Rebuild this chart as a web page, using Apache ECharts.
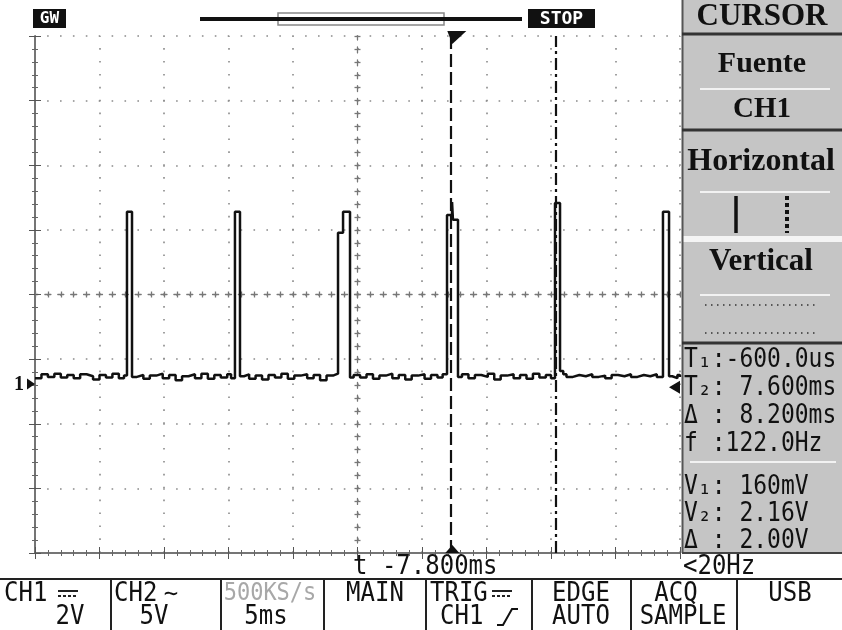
<!DOCTYPE html>
<html>
<head>
<meta charset="utf-8">
<title>CH1 cursor</title>
<script src="https://cdn.jsdelivr.net/npm/echarts@6/dist/echarts.min.js"></script>
<style>
  html, body { margin: 0; padding: 0; background: #fff; }
  #scope { width: 842px; height: 630px; }
</style>
</head>
<body>
<div id="scope"></div>
<script>
// CH1 trace: [time ms (trigger = 0), volts]
var ch1Trace = [
    [-32.8, 0.18], [-32.3, 0.30], [-31.8, 0.22], [-31.3, 0.32], [-30.8, 0.20], [-30.3, 0.28],
    [-29.8, 0.18], [-29.3, 0.30], [-28.8, 0.24], [-28.3, 0.14], [-27.8, 0.28], [-27.3, 0.20],
    [-26.8, 0.32], [-26.3, 0.18], [-25.9, 0.26],
    [-25.67, 5.33], [-25.28, 0.22],
    [-24.9, 0.28], [-24.4, 0.16], [-23.9, 0.26], [-23.4, 0.32], [-22.9, 0.18], [-22.4, 0.28],
    [-21.9, 0.12], [-21.4, 0.24], [-20.9, 0.30], [-20.4, 0.18], [-19.9, 0.32], [-19.4, 0.16],
    [-18.9, 0.28], [-18.4, 0.20], [-17.9, 0.30], [-17.6, 0.18],
    [-17.30, 5.33], [-16.91, 0.24],
    [-16.6, 0.30], [-16.2, 0.16], [-15.7, 0.26], [-15.2, 0.14], [-14.7, 0.28], [-14.2, 0.20],
    [-13.7, 0.32], [-13.2, 0.16], [-12.7, 0.26], [-12.2, 0.30], [-11.7, 0.18], [-11.2, 0.28],
    [-10.7, 0.12], [-10.2, 0.26], [-9.7, 0.32],
    [-9.31, 4.68], [-8.92, 5.33], [-8.38, 0.20],
    [-8.1, 0.28], [-7.6, 0.20], [-7.1, 0.30], [-6.6, 0.16], [-6.1, 0.26], [-5.6, 0.32],
    [-5.1, 0.18], [-4.6, 0.28], [-4.1, 0.14], [-3.6, 0.26], [-3.1, 0.30], [-2.6, 0.16],
    [-2.1, 0.28], [-1.6, 0.20], [-1.2, 0.30],
    [-0.86, 5.23], [-0.47, 5.63], [-0.40, 5.08], [-0.01, 0.22],
    [0.3, 0.30], [0.8, 0.18], [1.3, 0.28], [1.8, 0.22], [2.3, 0.32], [2.8, 0.14],
    [3.3, 0.26], [3.8, 0.30], [4.3, 0.18], [4.8, 0.28], [5.3, 0.16], [5.8, 0.32],
    [6.3, 0.20], [6.8, 0.28], [7.2, 0.18],
    [7.51, 5.60], [7.90, 0.40], [8.15, 0.30],
    [8.4, 0.22], [8.9, 0.28], [9.4, 0.24], [9.9, 0.30], [10.4, 0.22], [10.9, 0.26],
    [11.4, 0.18], [11.9, 0.28], [12.4, 0.24], [12.9, 0.30], [13.4, 0.22], [13.9, 0.28],
    [14.4, 0.24], [14.9, 0.30], [15.4, 0.22],
    [15.88, 5.33], [16.35, 0.24],
    [16.6, 0.18], [17.0, 0.28], [17.2, 0.22]
];

// timebase / vertical settings
var timeCenterMs = -7.8;      // horizontal position shown as "t -7.800ms"
var msPerDiv = 5;
var voltsPerDiv = 2;
var ch1CenterVolts = 2.77;    // volts at mid screen (ground marker sits lower)
var trigLevelVolts = -0.1;
var trigMarkMs = -0.45;

// cursors
var cursorT1 = -0.6;
var cursorT2 = 7.6;

// readouts and menu
var timeReadouts = ['T\u2081:-600.0us', 'T\u2082: 7.600ms', '\u0394 : 8.200ms', 'f :122.0Hz'];
var voltReadouts = ['V\u2081: 160mV', 'V\u2082: 2.16V', '\u0394 : 2.00V'];
var menuTitles = ['CURSOR', 'Fuente', 'CH1', 'Horizontal', 'Vertical'];
var bottomTop = ['CH1', 'CH2', '500KS/s', 'MAIN', 'TRIG', 'EDGE', 'ACQ', 'USB'];
var bottomLow = ['2V', '5V', '5ms', '', 'CH1', 'AUTO', 'SAMPLE', ''];

var scope = echarts.init(document.getElementById('scope'));

var gridBox = { left: 35, top: 36, width: 645, height: 517 };

var frameLine = { show: true, lineStyle: { color: '#6c6c6c', width: 1.5 } };
var frameTick = { show: true, inside: true, length: 6, lineStyle: { color: '#555', width: 1 } };
var frameMinor = { show: true, splitNumber: 5, length: 3, lineStyle: { color: '#666', width: 1 } };
var dotGrid = {
    show: true,
    lineStyle: { color: '#8a8a8a', width: 1.6, type: [1.6, 11.3], dashOffset: 0.8 }
};

function divAxis(pos, max, extra) {
    var ax = {
        type: 'value', min: 0, max: max, interval: 1, position: pos,
        axisLine: frameLine, axisTick: frameTick, minorTick: frameMinor,
        axisLabel: { show: false }, splitLine: { show: false }
    };
    for (var k in extra) ax[k] = extra[k];
    return ax;
}

// centre lines: dashed arm + ticks on both sides make the little crosses
function centreAxis(pos, max, offset, inside) {
    return {
        type: 'value', min: 0, max: max, interval: 1, position: pos, offset: offset,
        axisLine: { show: !inside, lineStyle: { color: '#777', width: 1.3, type: [6, 6.9], dashOffset: 3 } },
        axisTick: { show: true, inside: inside, length: 3, lineStyle: { color: '#777', width: 1.3 } },
        minorTick: { show: true, splitNumber: 5, length: 3, lineStyle: { color: '#777', width: 1.3 } },
        axisLabel: { show: false }, splitLine: { show: false }
    };
}

var option = {
    animation: false,
    backgroundColor: '#fff',
    grid: { left: gridBox.left, top: gridBox.top, width: gridBox.width, height: gridBox.height },
    xAxis: [
        divAxis('bottom', 10, { splitLine: dotGrid }),
        divAxis('top', 10, {}),
        {
            type: 'value', show: false,
            min: timeCenterMs - 5 * msPerDiv, max: timeCenterMs + 5 * msPerDiv
        },
        centreAxis('bottom', 10, -gridBox.height / 2, false),
        centreAxis('bottom', 10, -gridBox.height / 2, true)
    ],
    yAxis: [
        divAxis('left', 8, { splitLine: dotGrid }),
        divAxis('right', 8, {}),
        {
            type: 'value', show: false,
            min: ch1CenterVolts - 4 * voltsPerDiv, max: ch1CenterVolts + 4 * voltsPerDiv
        },
        centreAxis('left', 8, -gridBox.width / 2, false),
        centreAxis('left', 8, -gridBox.width / 2, true)
    ],
    series: [{
        name: 'CH1',
        type: 'line',
        xAxisIndex: 2,
        yAxisIndex: 2,
        data: ch1Trace,
        step: 'end',
        showSymbol: false,
        lineStyle: { color: '#111', width: 2.5 },
        z: 5,
        markLine: {
            silent: true,
            symbol: 'none',
            label: { show: false },
            data: [
                { xAxis: cursorT1, lineStyle: { color: '#111', width: 2.2, type: [13, 5] } },
                { xAxis: cursorT2, lineStyle: { color: '#111', width: 2.2, type: [12, 4, 3, 4] } }
            ]
        }
    }]
};

scope.setOption(option);

// ---- screen furniture ----
var serif = '"Liberation Serif", "DejaVu Serif", serif';
var mono = '"DejaVu Sans Mono", "Liberation Mono", monospace';

function txt(x, y, text, font, color, align, tall) {
    return {
        type: 'text', x: x, y: y, silent: true, z: 100,
        scaleY: tall || 1,
        style: {
            text: text, font: font, fill: color || '#111',
            align: align || 'center', verticalAlign: 'middle',
            textAlign: align || 'center', textVerticalAlign: 'middle'
        }
    };
}
function seg(x1, y1, x2, y2, color, w, dash) {
    return {
        type: 'line', silent: true, z: 100,
        shape: { x1: x1, y1: y1, x2: x2, y2: y2 },
        style: { stroke: color, lineWidth: w, lineDash: dash || null }
    };
}
function box(x, y, w, h, fill, stroke, lw) {
    return {
        type: 'rect', silent: true, z: 99,
        shape: { x: x, y: y, width: w, height: h },
        style: { fill: fill, stroke: stroke || null, lineWidth: lw || 0 }
    };
}
function tri(points, fill) {
    return { type: 'polygon', silent: true, z: 100, shape: { points: points }, style: { fill: fill || '#111' } };
}
function dcMark(x, y) {
    return [seg(x, y - 3, x + 20, y - 3, '#222', 2), seg(x, y + 2, x + 20, y + 2, '#222', 2, [3, 2])];
}

var gy = scope.convertToPixel({ yAxisIndex: 2 }, 0);
var ty = scope.convertToPixel({ yAxisIndex: 2 }, trigLevelVolts);
var tx = scope.convertToPixel({ xAxisIndex: 2 }, trigMarkMs);
var right = gridBox.left + gridBox.width;
var bottom = gridBox.top + gridBox.height;

var g = [];
// top bar
g.push(box(33, 9, 33, 19, '#111'));
g.push(txt(49.5, 19, 'GW', 'bold 16px ' + mono, '#fff'));
g.push(seg(200, 19, 522, 19, '#111', 4));
g.push(box(278, 13, 166, 12, 'rgba(0,0,0,0)', '#888', 1.5));
g.push(box(528, 9, 67, 19, '#111'));
g.push(txt(561.5, 19, 'STOP', 'bold 18px ' + mono, '#fff'));

// trigger position markers and channel / trigger level markers
g.push(tri([[tx - 5, 31], [tx + 14, 31], [tx, 44]]));
g.push(tri([[tx - 7, bottom], [tx + 7, bottom], [tx, bottom - 8]]));
g.push(txt(19, gy + 1, '1', 'bold 20px ' + serif, '#111'));
g.push(tri([[27, gy - 5.5], [27, gy + 5.5], [35, gy]]));
g.push(tri([[right, ty - 6.5], [right, ty + 6.5], [right - 11, ty]]));

// right side menu panel
g.push(box(682, 0, 160, 553, '#c5c5c5'));
g.push(seg(682.5, 0, 682.5, 553, '#555', 2));
g.push(txt(762, 17, menuTitles[0], 'bold 31px ' + serif));
g.push(seg(682, 34, 842, 34, '#333', 3));
g.push(txt(762, 64, menuTitles[1], 'bold 30px ' + serif));
g.push(seg(700, 89, 830, 89, '#f2f2f2', 2));
g.push(txt(762, 110, menuTitles[2], 'bold 29px ' + serif));
g.push(seg(682, 130, 842, 130, '#333', 3));
g.push(txt(761, 162, menuTitles[3], 'bold 32px ' + serif));
g.push(seg(700, 192, 830, 192, '#f2f2f2', 2));
g.push(seg(736, 196, 736, 233, '#111', 3.5));
g.push(seg(787, 196, 787, 233, '#111', 4, [4, 3]));
g.push(box(682, 236, 160, 6, '#f4f4f4'));
g.push(txt(761, 262, menuTitles[4], 'bold 31px ' + serif));
g.push(seg(700, 295, 830, 295, '#f2f2f2', 2));
g.push(seg(705, 305, 815, 305, '#333', 1.5, [1.5, 4.5]));
g.push(seg(705, 333, 815, 333, '#333', 1.5, [1.5, 4.5]));
g.push(seg(682, 343, 842, 343, '#333', 3));
var ry = [360, 388, 416, 444];
timeReadouts.forEach(function (s, i) { g.push(txt(684, ry[i], s, '23px ' + mono, '#111', 'left', 1.15)); });
g.push(seg(690, 462, 836, 462, '#f2f2f2', 2));
var vy = [487, 514, 541];
voltReadouts.forEach(function (s, i) { g.push(txt(684, vy[i], s, '23px ' + mono, '#111', 'left', 1.15)); });
g.push(seg(682, 553, 842, 553, '#444', 2));

// status strip
g.push(txt(353, 567, 't -7.800ms', '24px ' + mono, '#111', 'left', 1.1));
g.push(txt(683, 567, '<20Hz', '24px ' + mono, '#111', 'left', 1.1));

// bottom soft-key bar
g.push(seg(0, 579, 842, 579, '#222', 2));
[111, 221, 324, 426, 532, 631, 737].forEach(function (x) { g.push(seg(x, 579, x, 630, '#222', 2)); });
var r1 = 594, r2 = 617;
var f24 = '24px ' + mono;
g.push(txt(4, r1, bottomTop[0], f24, '#111', 'left', 1.12));
g = g.concat(dcMark(58, r1));
g.push(txt(70, r2, bottomLow[0], f24, '#111', 'center', 1.12));
g.push(txt(114, r1, bottomTop[1], f24, '#111', 'left', 1.12));
g.push(txt(171, r1 + 1, '\u223C', f24));
g.push(txt(154, r2, bottomLow[1], f24, '#111', 'center', 1.12));
g.push(txt(270, r1, bottomTop[2], '22px ' + mono, '#a8a8a8', 'center', 1.12));
g.push(txt(266, r2, bottomLow[2], f24, '#111', 'center', 1.12));
g.push(txt(375, r1, bottomTop[3], f24, '#111', 'center', 1.12));
g.push(txt(430, r1, bottomTop[4], f24, '#111', 'left', 1.12));
g = g.concat(dcMark(492, r1));
g.push(txt(440, r2, bottomLow[4], f24, '#111', 'left', 1.12));
g.push({
    type: 'polyline', silent: true, z: 100,
    shape: { points: [[497, r2 + 8], [503, r2 + 8], [512, r2 - 8], [518, r2 - 8]] },
    style: { stroke: '#111', lineWidth: 2, fill: null }
});
g.push(txt(581, r1, bottomTop[5], f24, '#111', 'center', 1.12));
g.push(txt(581, r2, bottomLow[5], f24, '#111', 'center', 1.12));
g.push(txt(676, r1, bottomTop[6], f24, '#111', 'center', 1.12));
g.push(txt(683, r2, bottomLow[6], f24, '#111', 'center', 1.12));
g.push(txt(790, r1, bottomTop[7], f24, '#111', 'center', 1.12));

scope.setOption({ graphic: { elements: g } });

window.addEventListener('resize', function () {
    scope.resize();
});
</script>
</body>
</html>
